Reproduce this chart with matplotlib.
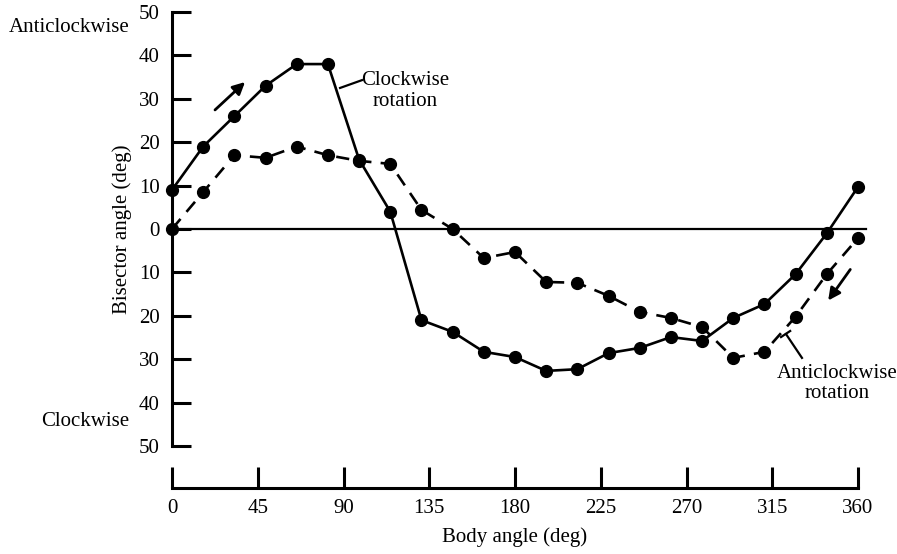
import matplotlib.pyplot as plt
from matplotlib.ticker import FuncFormatter

plt.rcParams['font.family'] = ['Liberation Serif', 'DejaVu Serif']

# body angle sampled in 22 equal steps over a full turn
body_angle = [360 / 22 * i for i in range(23)]

# bisector angle (deg), positive = anticlockwise
clockwise = [9, 19, 26, 33, 38, 38, 16, 4, -21, -23.7, -28.3, -29.5,
             -32.7, -32.3, -28.6, -27.4, -24.9, -25.8, -20.5, -17.3,
             -10.4, -1, 9.7]
anticlockwise = [0, 8.5, 17, 16.4, 19, 17, 15.7, 15, 4.4, 0, -6.7, -5.3,
                 -12.2, -12.4, -15.4, -19.1, -20.5, -22.6, -29.7, -28.3,
                 -20.2, -10.4, -2.1]

x_ticks = [0, 45, 90, 135, 180, 225, 270, 315, 360]
y_ticks = [-50, -40, -30, -20, -10, 0, 10, 20, 30, 40, 50]

FS = 15
W, H = 897, 554
fig = plt.figure(figsize=(W / 100, H / 100), dpi=100)
ax = fig.add_axes([172 / W, 1 - 446 / H, (858 - 172) / W, (446 - 12) / H])
ax.set_xlim(0, 360)
ax.set_ylim(-50, 50)

ax.axhline(0, xmin=0, xmax=364 / 360, color='black', lw=1.6, clip_on=False)

ax.plot(body_angle, clockwise, color='black', lw=1.9, marker='o',
        markersize=8.5, clip_on=False, zorder=3)
ax.plot(body_angle, anticlockwise, color='black', lw=1.9, marker='o',
        markersize=8.5, dashes=(5, 3.5), clip_on=False, zorder=3)

# spines: plain left axis, detached body-angle axis underneath
for s in ['top', 'right']:
    ax.spines[s].set_visible(False)
ax.spines['left'].set_linewidth(2.2)
ax.spines['bottom'].set_position(('outward', 30))
ax.spines['bottom'].set_linewidth(2.2)

ax.set_xticks(x_ticks)
ax.set_yticks(y_ticks)
ax.yaxis.set_major_formatter(FuncFormatter(lambda v, p: '%d' % abs(v)))
ax.tick_params(axis='y', direction='in', length=14, width=2.2, pad=9,
               labelsize=FS)
ax.tick_params(axis='x', direction='in', length=15, width=2.2, pad=8,
               labelsize=FS)

# rotation annotations
ax.plot([88.2, 99.7], [32.5, 34.3], color='black', lw=1.6)
ax.text(122.5, 31.8, 'Clockwise\nrotation', ha='center', va='center',
        fontsize=FS, linespacing=1.1)
ax.plot([319.6, 324.4], [-24.9, -23.5], color='black', lw=1.6, clip_on=False)
ax.plot([322.2, 330.6], [-24.2, -29.7], color='black', lw=1.6, clip_on=False)
ax.text(349, -35.6, 'Anticlockwise\nrotation', ha='center', va='center',
        fontsize=FS, linespacing=1.1)

ax.annotate('', xy=(39.4, 34.3), xytext=(21.5, 27),
            arrowprops=dict(arrowstyle='-|>', color='black', lw=2,
                            mutation_scale=18))
ax.annotate('', xy=(343.5, -17), xytext=(356.8, -8.8),
            arrowprops=dict(arrowstyle='-|>', color='black', lw=2,
                            mutation_scale=18), annotation_clip=False)

fig.text(69 / W, 1 - 28 / H, 'Anticlockwise', ha='center', va='center',
         fontsize=FS)
fig.text(85 / W, 1 - 422 / H, 'Clockwise', ha='center', va='center',
         fontsize=FS)
fig.text(122 / W, 1 - 229 / H, 'Bisector angle (deg)', ha='center',
         va='center', rotation=90, fontsize=FS)
fig.text(515 / W, 1 - 537 / H, 'Body angle (deg)', ha='center', va='center',
         fontsize=FS)

fig.savefig('out.png', dpi=100)
